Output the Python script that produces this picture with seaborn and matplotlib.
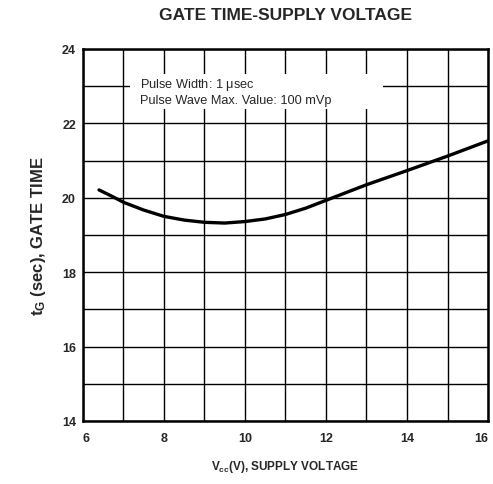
import numpy as np
import pandas as pd
import matplotlib
matplotlib.use('Agg')
import matplotlib.pyplot as plt
import seaborn as sns

# ─── data ───────────────────────────────────────────────────────────────────
vcc = [6.4, 6.7, 7, 7.5, 8, 8.5, 9, 9.5, 10, 10.5, 11, 11.5, 12, 13, 14, 15, 16]
gate_time = [20.21, 20.05, 19.88, 19.67, 19.50, 19.40, 19.34, 19.32, 19.36, 19.43,
             19.55, 19.72, 19.93, 20.35, 20.73, 21.12, 21.53]

x_ticks = list(range(6, 17))
y_ticks = list(range(14, 25))
x_labels = [str(v) if v % 2 == 0 else '' for v in x_ticks]
y_labels = [str(v) if v % 2 == 0 else '' for v in y_ticks]

note_lines = ['Pulse Width: 1 $\\mu$sec', 'Pulse Wave Max. Value: 100 mVp']

df = pd.DataFrame({'Vcc': vcc, 'tG': gate_time})

sns.set_style('white')
plt.rcParams['font.family'] = ['Liberation Sans', 'DejaVu Sans']
plt.rcParams['font.weight'] = 'bold'
plt.rcParams['mathtext.fontset'] = 'custom'
plt.rcParams['mathtext.rm'] = 'Liberation Sans:bold'
plt.rcParams['mathtext.it'] = 'Liberation Sans:bold'
plt.rcParams['mathtext.default'] = 'regular'

fig = plt.figure(figsize=(4.93, 4.85), dpi=100)
ax = fig.add_axes([0.168, 0.130, 0.822, 0.767])

sns.lineplot(data=df, x='Vcc', y='tG', ax=ax, color='black', linewidth=2.4, zorder=3)

ax.set_xlim(6, 16)
ax.set_ylim(14, 24)
ax.set_xticks(x_ticks)
ax.set_yticks(y_ticks)
ax.set_xticklabels(x_labels, fontsize=9, fontweight='bold')
ax.set_yticklabels(y_labels, fontsize=9, fontweight='bold')
ax.tick_params(axis='x', length=0, pad=8)
ax.tick_params(axis='y', length=0, pad=5)
# end labels sit inside the frame edges, as in the print
xt = ax.get_xticklabels()
xt[0].set_ha('left')
xt[-1].set_ha('right')
ax.grid(True, color='black', linewidth=1.0)
for s in ax.spines.values():
    s.set_color('black')
    s.set_linewidth(1.8)

# note box that blanks the grid behind it
ax.add_patch(plt.Rectangle((7.16, 22.38), 6.25, 0.95, facecolor='white', edgecolor='none', zorder=2.5))
ax.text(7.4, 23.06, note_lines[0], fontsize=9.2, fontweight='normal', va='center', ha='left', zorder=4)
ax.text(7.4, 22.62, note_lines[1], fontsize=9.2, fontweight='normal', va='center', ha='left', zorder=4)

ax.set_xlabel('V$_{cc}$(V), SUPPLY VOLTAGE', fontsize=8.5, fontweight='bold', labelpad=10)
ax.set_ylabel('t$_{G}$ (sec), GATE TIME', fontsize=12, fontweight='bold', labelpad=10)
fig.text(0.58, 0.968, 'GATE TIME-SUPPLY VOLTAGE', ha='center', va='center', fontsize=12.5, fontweight='bold')

fig.savefig('out.png', dpi=100)
